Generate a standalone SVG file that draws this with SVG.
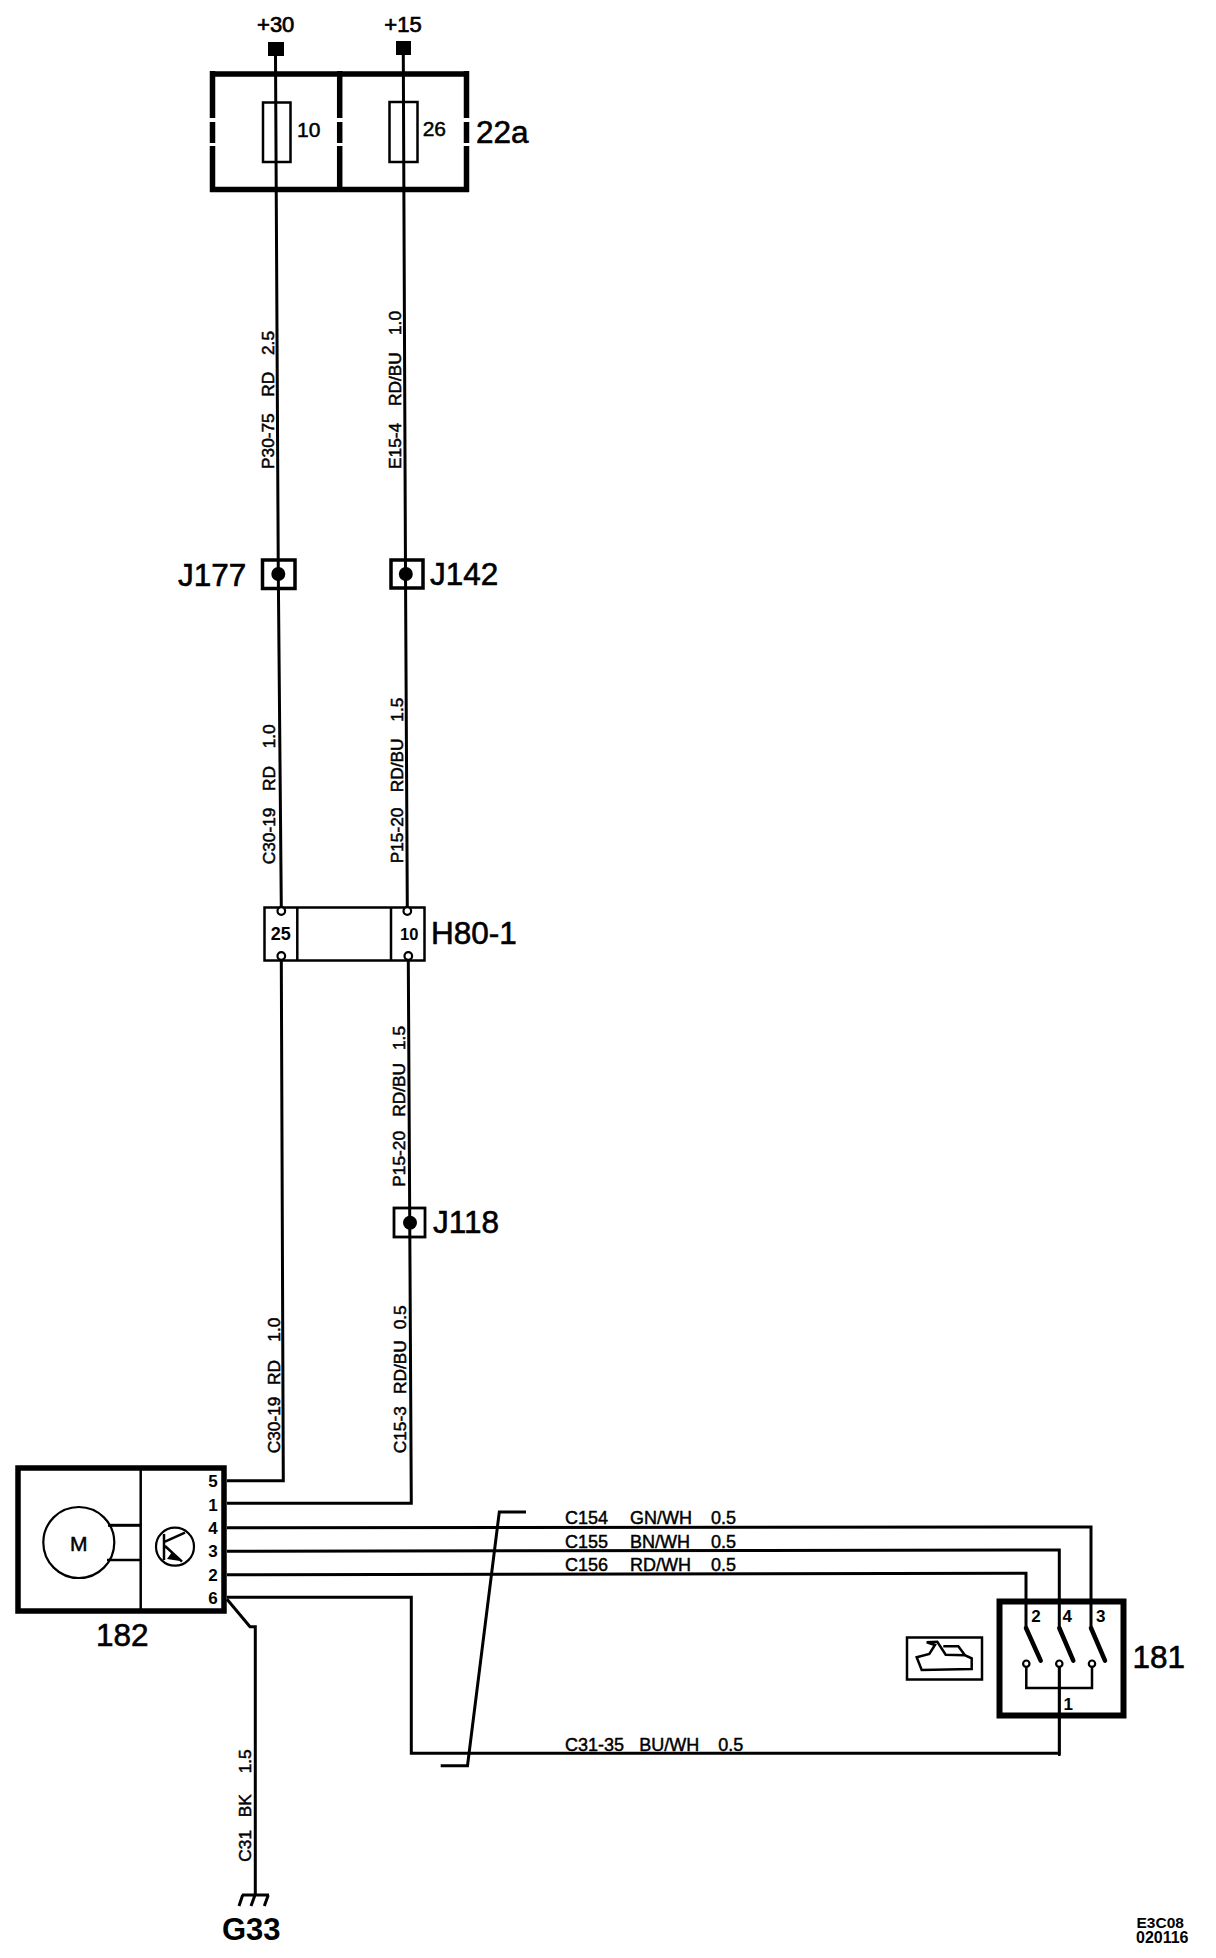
<svg xmlns="http://www.w3.org/2000/svg" width="1216" height="1958" viewBox="0 0 1216 1958">
<style>
text{font-family:"Liberation Sans",Arial,sans-serif;fill:#000}
.w{fill:none;stroke:#000;stroke-width:3}
.b{fill:none;stroke:#000;stroke-width:5.5}
.t{fill:none;stroke:#000;stroke-width:2.5}
.f{fill:#000;stroke:none}
.c{fill:#fff;stroke:#000;stroke-width:2.2}
.l{font-size:31.5px;stroke:#000;stroke-width:.6}
.p{font-size:17px;font-weight:bold}
.s{font-size:22px;stroke:#000;stroke-width:.7}
.n{font-size:21px;stroke:#000;stroke-width:.5}
.r{font-size:18px;stroke:#000;stroke-width:.45}
.q{font-size:17.3px;stroke:#000;stroke-width:.5}
</style>
<rect width="1216" height="1958" fill="#fff"/>
<g id="connectors">
<path class="w" d="M275.5 56L278.3 574L281.3 907"/>
<path class="w" d="M281.3 960L283.3 1480.7H227"/>
<path class="w" d="M403.3 55L405.5 574L407.3 907"/>
<path class="w" d="M408.3 960L411.3 1503.3H227"/>
<path class="w" d="M227 1527.7L1091 1527V1628"/>
<path class="w" d="M227 1551.3L1059.3 1550V1628"/>
<path class="w" d="M227 1574.7L1026 1573.3V1628"/>
<path class="w" d="M227 1597.3H411.3V1753.3H1059.3V1667"/>
<path class="w" d="M227 1599.3L250 1626.7H255.3V1895"/>
<path class="w" d="M526 1512H499.3L467.5 1765.7H440.7"/>
<text class="q" transform="translate(274.3,469) rotate(-90)"><tspan x="0">P30-75</tspan><tspan x="72.3">RD</tspan><tspan x="114">2.5</tspan></text>
<text class="q" transform="translate(401,469) rotate(-90)"><tspan x="0">E15-4</tspan><tspan x="63">RD/BU</tspan><tspan x="134">1.0</tspan></text>
<text class="q" transform="translate(275,864.3) rotate(-90)"><tspan x="0">C30-19</tspan><tspan x="73.3">RD</tspan><tspan x="116">1.0</tspan></text>
<text class="q" transform="translate(403.3,863.3) rotate(-90)"><tspan x="0">P15-20</tspan><tspan x="71">RD/BU</tspan><tspan x="141.6">1.5</tspan></text>
<text class="q" transform="translate(405,1186.7) rotate(-90)"><tspan x="0">P15-20</tspan><tspan x="70">RD/BU</tspan><tspan x="136.7">1.5</tspan></text>
<text class="q" transform="translate(280,1453.3) rotate(-90)"><tspan x="0">C30-19</tspan><tspan x="68.3">RD</tspan><tspan x="111.6">1.0</tspan></text>
<text class="q" transform="translate(406,1453.3) rotate(-90)"><tspan x="0">C15-3</tspan><tspan x="59.3">RD/BU</tspan><tspan x="124">0.5</tspan></text>
<text class="q" transform="translate(251,1861.7) rotate(-90)"><tspan x="0">C31</tspan><tspan x="44.4">BK</tspan><tspan x="88.4">1.5</tspan></text>
<text class="r" y="1524.3"><tspan x="565">C154</tspan><tspan x="630">GN/WH</tspan><tspan x="711">0.5</tspan></text>
<text class="r" y="1547.7"><tspan x="565">C155</tspan><tspan x="630">BN/WH</tspan><tspan x="711">0.5</tspan></text>
<text class="r" y="1571"><tspan x="565">C156</tspan><tspan x="630">RD/WH</tspan><tspan x="711">0.5</tspan></text>
<text class="r" y="1750.7"><tspan x="565">C31-35</tspan><tspan x="639.3">BU/WH</tspan><tspan x="718.3">0.5</tspan></text>
</g>
<g id="term30">
<rect class="f" x="268" y="42" width="16" height="14"/>
<text class="s" x="275.7" y="31.7" text-anchor="middle">+30</text>
</g>
<g id="term15">
<rect class="f" x="396" y="41" width="15" height="14"/>
<text class="s" x="403" y="31.7" text-anchor="middle">+15</text>
</g>
<g id="fusebox-22a">
<path class="b" d="M210 74H469M210 189.5H469M212.5 71V118M212.5 122V143M212.5 146V192M339.7 71V118M339.7 122V143M339.7 146V192M466.5 71V118M466.5 122V143M466.5 146V192"/>
<rect class="t" x="263" y="102.5" width="27.5" height="59.5"/>
<rect class="t" x="389.5" y="102" width="28" height="60"/>
<text class="n" x="297" y="136.7">10</text>
<text class="n" x="422.7" y="136">26</text>
<text class="l" x="476" y="142.7">22a</text>
</g>
<g id="J177">
<rect x="262.5" y="560" width="32.5" height="28.5" fill="none" stroke="#000" stroke-width="3.5"/>
<circle class="f" cx="278.3" cy="574" r="7"/>
<text class="l" x="178" y="586">J177</text>
</g>
<g id="J142">
<rect x="391" y="560" width="32" height="28" fill="none" stroke="#000" stroke-width="3.5"/>
<circle class="f" cx="405.8" cy="574" r="7"/>
<text class="l" x="430" y="585">J142</text>
</g>
<g id="H80-1">
<rect class="t" x="264.5" y="907.5" width="160" height="53"/>
<path class="t" d="M297.3 907V960M391 907V960"/>
<circle class="c" cx="281.3" cy="911" r="3.8"/>
<circle class="c" cx="407.3" cy="911" r="3.8"/>
<circle class="c" cx="281.3" cy="956" r="3.8"/>
<circle class="c" cx="408.3" cy="956" r="3.8"/>
<text x="280.7" y="940" font-size="18" font-weight="bold" text-anchor="middle">25</text>
<text x="409.3" y="940" font-size="16.5" font-weight="bold" text-anchor="middle">10</text>
<text class="l" x="431" y="944">H80-1</text>
</g>
<g id="J118">
<rect x="394" y="1208" width="31" height="29" fill="none" stroke="#000" stroke-width="2.8"/>
<circle class="f" cx="410" cy="1222.7" r="7"/>
<text class="l" x="433" y="1232.7">J118</text>
</g>
<g id="module-182">
<rect class="b" x="18" y="1468" width="206" height="143"/>
<path class="t" d="M140.7 1468V1611"/>
<circle cx="78.8" cy="1542.5" r="35.5" fill="none" stroke="#000" stroke-width="2.2"/>
<path class="w" d="M108 1525.3H140"/>
<path class="t" d="M107 1560H140"/>
<text class="n" x="78.7" y="1550.7" text-anchor="middle">M</text>
<circle cx="175" cy="1546.7" r="19" fill="none" stroke="#000" stroke-width="2.2"/>
<path class="t" d="M164 1534V1560M165 1541.7L185 1532.7M165 1546L182 1561.7"/>
<path class="f" d="M167 1559L172 1552L180 1561Z"/>
<g class="p" text-anchor="middle">
<text x="213" y="1486.7">5</text>
<text x="213" y="1510.7">1</text>
<text x="213" y="1534">4</text>
<text x="213" y="1557">3</text>
<text x="213" y="1580.7">2</text>
<text x="213" y="1604">6</text>
</g>
<text class="l" x="96" y="1646">182</text>
</g>
<g id="switch-181">
<rect x="999.5" y="1601.5" width="124" height="114" fill="none" stroke="#000" stroke-width="6"/>
<path d="M1026 1628L1040.7 1660.7M1059.3 1628L1073.3 1660.7M1091 1628L1105 1660.7" fill="none" stroke="#000" stroke-width="4.5" stroke-linecap="round"/>
<path class="t" d="M1026.3 1664V1688H1092V1664M1059.3 1664V1756"/>
<circle class="c" cx="1026.3" cy="1663.7" r="3.2"/>
<circle class="c" cx="1059.3" cy="1663.7" r="3.2"/>
<circle class="c" cx="1092" cy="1663.7" r="3.2"/>
<g class="p" text-anchor="middle">
<text x="1036" y="1621.7">2</text>
<text x="1067.3" y="1621.7">4</text>
<text x="1100.7" y="1621.7">3</text>
<text x="1068.3" y="1710">1</text>
</g>
<text class="l" x="1132.5" y="1668.3">181</text>
</g>
<g id="icon">
<rect class="t" x="907" y="1637.5" width="75" height="42"/>
<path class="t" d="M916.7 1657.3L929.3 1654L935 1645L926.7 1642.3L937.3 1641.7L945.7 1654.7L965 1655.3L971.7 1658.3V1669L921.7 1670ZM943.3 1646.3H958.3L965 1655.3"/>
</g>
<g id="G33">
<path class="w" d="M242 1895H269M242.7 1895L239 1906M255 1895L251 1906M268.3 1895L264.3 1906"/>
<text x="222" y="1940" font-size="31" font-weight="bold">G33</text>
</g>
<g id="stamp">
<text x="1136.5" y="1928" font-size="15.5" font-weight="bold">E3C08</text>
<text x="1136" y="1943.3" font-size="16" font-weight="bold">020116</text>
</g>
</svg>
